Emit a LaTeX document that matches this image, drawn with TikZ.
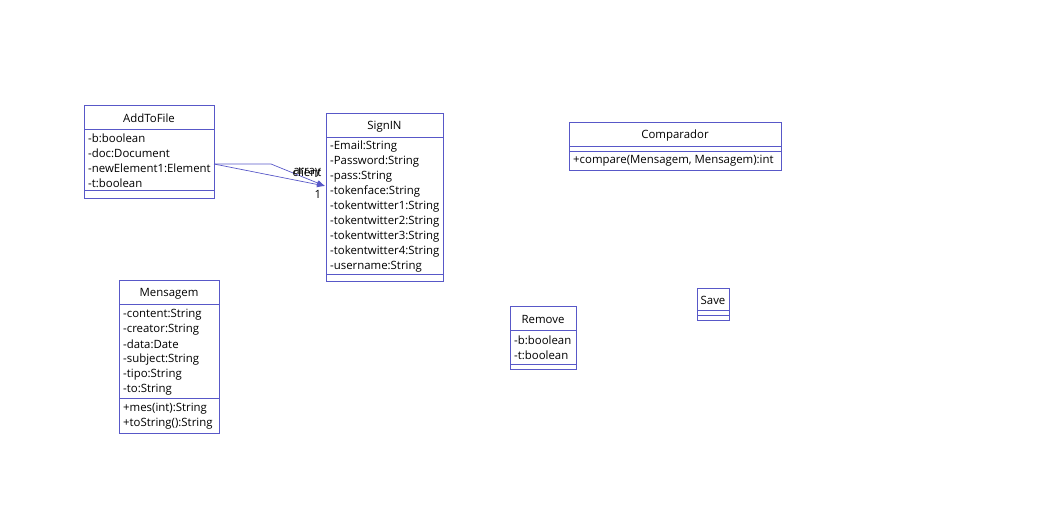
\documentclass[tikz,border=0pt]{standalone}
\usepackage{fontspec}
\setmainfont{Open Sans}
\usepackage{tikz}
\usetikzlibrary{arrows.meta}

\definecolor{umlblue}{RGB}{88,88,200}

\tikzset{
    classbox/.style={draw=umlblue, line width=0.9pt, anchor=north west, inner sep=0pt},
    sepline/.style={draw=umlblue, line width=0.9pt},
    titletext/.style={inner sep=0pt, yshift=-1.5pt, font=\fontsize{11.4}{13}\selectfont},
    attrtext/.style={anchor=west, inner sep=0pt, yshift=-1.5pt, font=\fontsize{11.4}{13}\selectfont},
    assoc/.style={draw=umlblue, line width=0.7pt, -{Latex[length=8pt,width=6pt]}},
}

\begin{document}
\begin{tikzpicture}[x=1pt, y=-1pt]
    \useasboundingbox (0,0) rectangle (1055,530);

    % AddToFile
    \node[classbox, minimum width=130pt, minimum height=93pt] (addtofile) at (84,105) {};
    \node[titletext] (addtofile-t) at (149,117) {AddToFile};
    \draw[sepline] (84,129) -- (214,129);
    \node[attrtext] at (88,137) {-b:boolean};
    \node[attrtext] at (88,152) {-doc:Document};
    \node[attrtext] at (88,167) {-newElement1:Element};
    \node[attrtext] at (88,182) {-t:boolean};
    \draw[sepline] (84,190) -- (214,190);

    % SignIN
    \node[classbox, minimum width=117pt, minimum height=168pt] (signin) at (326,113) {};
    \node[titletext] (signin-t) at (384.5,125) {SignIN};
    \draw[sepline] (326,137) -- (443,137);
    \node[attrtext] at (330,145) {-Email:String};
    \node[attrtext] at (330,160) {-Password:String};
    \node[attrtext] at (330,175) {-pass:String};
    \node[attrtext] at (330,190) {-tokenface:String};
    \node[attrtext] at (330,205) {-tokentwitter1:String};
    \node[attrtext] at (330,220) {-tokentwitter2:String};
    \node[attrtext] at (330,235) {-tokentwitter3:String};
    \node[attrtext] at (330,250) {-tokentwitter4:String};
    \node[attrtext] at (330,265) {-username:String};
    \draw[sepline] (326,274) -- (443,274);

    % Comparador
    \node[classbox, minimum width=212pt, minimum height=48pt] (comparador) at (569,122) {};
    \node[titletext] (comparador-t) at (675,134) {Comparador};
    \draw[sepline] (569,146) -- (781,146);
    \draw[sepline] (569,151) -- (781,151);
    \node[attrtext] at (573,159) {+compare(Mensagem, Mensagem):int};

    % Mensagem
    \node[classbox, minimum width=100pt, minimum height=153pt] (mensagem) at (119,280) {};
    \node[titletext] (mensagem-t) at (169,292) {Mensagem};
    \draw[sepline] (119,304) -- (219,304);
    \node[attrtext] at (123,313) {-content:String};
    \node[attrtext] at (123,328) {-creator:String};
    \node[attrtext] at (123,343) {-data:Date};
    \node[attrtext] at (123,358) {-subject:String};
    \node[attrtext] at (123,373) {-tipo:String};
    \node[attrtext] at (123,388) {-to:String};
    \draw[sepline] (119,398) -- (219,398);
    \node[attrtext] at (123,407) {+mes(int):String};
    \node[attrtext] at (123,422) {+toString():String};

    % Remove
    \node[classbox, minimum width=66pt, minimum height=63pt] (remove) at (510,306) {};
    \node[titletext] (remove-t) at (543,318) {Remove};
    \draw[sepline] (510,330) -- (576,330);
    \node[attrtext] at (514,339) {-b:boolean};
    \node[attrtext] at (514,354) {-t:boolean};
    \draw[sepline] (510,364) -- (576,364);

    % Save
    \node[classbox, minimum width=32pt, minimum height=32pt] (save) at (697,288) {};
    \node[titletext] (save-t) at (713,299) {Save};
    \draw[sepline] (697,310) -- (729,310);
    \draw[sepline] (697,315) -- (729,315);

    % associations AddToFile -> SignIN
    \coordinate (src) at (214,164);
    \coordinate (bend) at (271,164);
    \coordinate (dst) at (325,186);
    \draw[assoc] (src) -- (bend) -- (dst);
    \draw[assoc] (src) -- (dst);
    \node[titletext] (lbl-client) at (307,171) {client};
    \node[titletext] (lbl-array) at (307,171) {array};
    \node[titletext] (lbl-mult) at (318,193) {1};
\end{tikzpicture}
\end{document}
